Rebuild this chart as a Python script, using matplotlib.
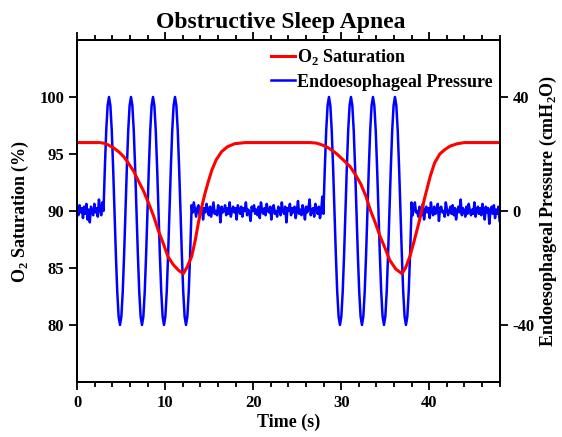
import numpy as np
import matplotlib
matplotlib.use("Agg")
import matplotlib.pyplot as plt
from matplotlib.ticker import MultipleLocator

plt.rcParams['font.family'] = ['Liberation Serif', 'DejaVu Serif']
plt.rcParams['font.weight'] = 'bold'
plt.rcParams['mathtext.fontset'] = 'custom'
plt.rcParams['mathtext.rm'] = 'Liberation Serif:bold'
plt.rcParams['mathtext.bf'] = 'Liberation Serif:bold'
plt.rcParams['axes.unicode_minus'] = False

# O2 saturation (time s, %)
o2_time = [0, 2.5, 3.0, 3.5, 4.1, 4.7, 5.3, 5.8, 6.4, 6.9, 7.5, 8.1, 8.7, 9.2,
           9.8, 10.3, 10.9, 11.5, 12.05,
           12.5, 13.0, 13.4, 13.75, 14.1, 14.5, 14.9, 15.3, 15.8, 16.4, 17.1,
           17.9, 19.1,
           26.5, 27.2, 27.8, 28.4, 29.0, 29.5, 30.2, 31.0, 31.6, 32.2, 32.8,
           33.3, 33.9, 34.4, 35.0, 35.5, 36.2, 36.9,
           37.3, 37.8, 38.3, 38.9, 39.5, 40.1, 40.6, 41.2, 41.8, 42.4, 43.2,
           44, 48]
o2_sat = [96, 96.0, 95.95, 95.8, 95.55, 95.2, 94.75, 94.2, 93.5, 92.7, 91.8, 90.7, 89.5, 88.3,
          87.1, 86.0, 85.3, 84.8, 84.5,
          85.1, 86.0, 87.4, 88.9, 90.2, 91.5, 92.6, 93.6, 94.5, 95.2, 95.65,
          95.9, 96,
          96.0, 95.95, 95.8, 95.6, 95.3, 95.0, 94.5, 93.9, 93.2, 92.4, 91.3,
          90.1, 88.9, 87.8, 86.7, 85.7, 84.9, 84.5,
          85.0, 86.0, 87.4, 89.2, 91.2, 93.0, 94.2, 95.0, 95.4, 95.7, 95.9,
          96, 96]

# obstructed breathing efforts: one cycle of the pressure swing (cmH2O), 4 per event
effort_cycle = [0, 15.3, 28.3, 37.0, 40, 37.0, 28.3, 15.3,
                0, -15.3, -28.3, -37.0, -40, -37.0, -28.3, -15.3]
effort_period = 2.5
effort_starts = [2.98, 27.98]
n_efforts = 4

# baseline pressure noise between events (cmH2O)
noise_a = [0.5, -1.5, 2, -0.5, 1, -2.5, 1.5, -1, 2.5, -3, 0.5, -4, 1.5, 0, -1.5,
           2.5, -0.5, 1, -2, 4, 1, -1.5, 3, 0]
noise_b = [2, -0.5, 3, 0.5, -2, 1, 2, -1.5, 0, 1.5, -3, 1, -0.5, 2.5, 0, -1.5, 1.5, -2, 0.5, 3, -1,
           0, -1.5, 2, 1, -4, 1.5, -0.5, 0, 2, -1.5, 1, -1, 3, -2, 0, 1.5, -0.5, 1, -3, 2, 0.5,
           -1, 1.5, -2, 1, 0, 3, -1.5, 0.5, -0.5, -3.5, 1.5, 0, 2, -1, 0.5, -1.5, 1.5, -2.5, 3, 0, -1,
           1, -1.5, 2.5, 0, -0.5, 1.5, -3, 1, 2, -1, 0, -2, 1.5, 0.5, -1.5, 3, 0, -1, 1.5, -4, 1,
           0, 2.5, -1.5, 1, -0.5, 1.5, -2.5, 0, 3.5, -1, 0.5, -1.5, 2, 0, -3, 1.5, -0.5, 1, 4, -1.5, 0,
           1, -2, 2.5, 0.5, -1, 1.5, -2.5, 0, 5, -1]
noise_c = [3, -1.5, 1, 3, -0.5, 0, -2, 1.5, 0.5, -1.5, 2.5, -3, 0, 1.5, -0.5, 1, -2.5, 3, 0, -1.5,
           1.5, -1, 0, 2.5, -3.5, 1, 1.5, -0.5, 0, -2, 3, 0.5, -1.5, 0, 1.5, -1, 2, -1.5, 1, -3,
           0, 1.5, -0.5, 4, -1.5, 1, 0, -2, 1.5, -1, 2.5, 0, -1.5, 0.5, -1, 3, -2, 0, 1.5, -1,
           1, -1.5, 2.5, 0, -3, 1.5, -0.5, 1, -4.5, 0, 1.5, -1, 2, -2.5, 0.5, -1, 1.5, -3.5]

t_end = 48


def build_pressure():
  burst = effort_cycle * n_efforts + [0]
  dt = effort_period / len(effort_cycle)
  burst_len = effort_period * n_efforts
  segs_t, segs_p = [], []
  noise_edges = [(0, effort_starts[0], noise_a),
                 (effort_starts[0] + burst_len, effort_starts[1], noise_b),
                 (effort_starts[1] + burst_len, t_end, noise_c)]
  for i, (a, b, vals) in enumerate(noise_edges):
    segs_t.append(np.linspace(a, b, len(vals)))
    segs_p.append(np.array(vals, dtype=float))
    if i < len(effort_starts):
      s = effort_starts[i]
      segs_t.append(s + np.arange(len(burst)) * dt)
      segs_p.append(np.array(burst, dtype=float))
  return np.concatenate(segs_t), np.concatenate(segs_p)


def main():
  t_p, pres = build_pressure()

  fig = plt.figure(figsize=(5.62, 4.37), dpi=100)
  ax = fig.add_axes([0.1375, 0.126, 0.7515, 0.7825])
  ax2 = ax.twinx()
  ax.set_zorder(ax2.get_zorder() + 1)
  ax.patch.set_visible(False)

  l2, = ax2.plot(t_p, pres, color='#0000ff', lw=1.8, label='Endoesophageal Pressure')
  l1, = ax.plot(o2_time, o2_sat, color='#ff0000', lw=2.2, label=r'O$_2$ Saturation')

  ax.set_xlim(0, 48)
  ax.set_ylim(75, 105)
  ax2.set_ylim(-60, 60)
  ax.xaxis.set_major_locator(MultipleLocator(10))
  ax.xaxis.set_minor_locator(MultipleLocator(2))
  ax.set_yticks([80, 85, 90, 95, 100])
  ax2.set_yticks([-40, 0, 40])

  for a in (ax, ax2):
    for sp in a.spines.values():
      sp.set_linewidth(1.4)
  ax.tick_params(axis='x', which='both', top=True, direction='out', width=1.3, labelsize=12)
  ax.tick_params(axis='x', which='major', length=6)
  ax.tick_params(axis='x', which='minor', length=3.5)
  ax.tick_params(axis='y', direction='out', length=6, width=1.3, labelsize=12)
  ax2.tick_params(axis='y', direction='out', length=6, width=1.3, labelsize=12)

  ax.set_xlabel('Time (s)', fontsize=13, fontweight='bold', labelpad=2)
  ax.set_ylabel(r'O$_2$ Saturation (%)', fontsize=13, fontweight='bold', labelpad=6)
  ax2.set_ylabel(r'Endoesophageal Pressure (cmH$_2$O)', fontsize=13, fontweight='bold', labelpad=2)

  fig.text(0.5, 0.935, 'Obstructive Sleep Apnea', ha='center', va='baseline',
           fontsize=17, fontweight='bold')

  ax.legend(handles=[l1, l2], loc='upper right', frameon=False, fontsize=13,
            handlelength=1.3, handletextpad=0.1, borderaxespad=0.0,
            labelspacing=0.35, bbox_to_anchor=(1.0, 1.0))

  fig.savefig('out.png', dpi=100)

if __name__ == "__main__":
  main()
